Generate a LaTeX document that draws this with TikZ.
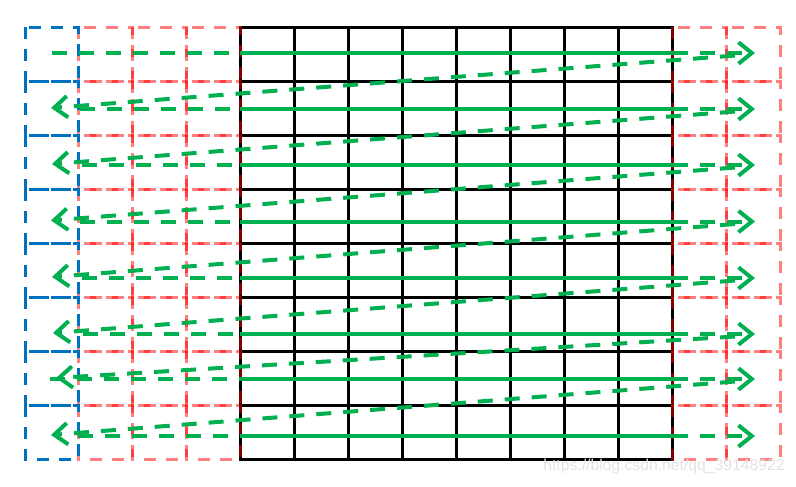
\documentclass[tikz,border=0pt]{standalone}
\usepackage{fontspec}
\setmainfont{Liberation Sans}
\usetikzlibrary{arrows.meta}
\definecolor{gr}{HTML}{00B050}
\definecolor{bl}{HTML}{0070C0}
\definecolor{wm}{HTML}{E2E2E2}
\tikzset{
  gridline/.style={line width=2.25pt, black, line cap=rect},
  redcell/.style={draw=red, draw opacity=0.5, line width=2.25pt, dash pattern=on 9pt off 7.5pt},
  bluecell/.style={draw=bl, line width=2.25pt, dash pattern=on 9pt off 7.5pt},
  gsolid/.style={draw=gr, line width=3pt},
  gdash/.style={draw=gr, line width=3pt, dash pattern=on 11.25pt off 9pt},
  garrow/.style={gdash, -{Straight Barb[length=10pt,width=16pt]}},
}
\begin{document}
\begin{tikzpicture}[x=0.75pt,y=-0.75pt]
\useasboundingbox (0,0) rectangle (796,486);
% black grid
\foreach \i in {0,...,8} {
  \draw[gridline] (240+54*\i,27) -- (240+54*\i,459);
  \draw[gridline] (240,27+54*\i) -- (672,27+54*\i);
}
% red padding cells
\foreach \xa/\xb in {78/132,132/186,186/240,672/726,726/780} {
  \foreach \r in {0,...,7} {
    \draw[redcell] (\xa,27+54*\r) rectangle (\xb,81+54*\r);
  }
}
% blue cells
\foreach \r in {0,...,7} {
  \draw[bluecell] (25,27+54*\r) rectangle (78,81+54*\r);
}
% row coordinates
\foreach \k/\y/\xs/\tx in {1/53/52/51,2/109/80/51,3/165/82/52,4/221.5/80/51,5/278/82/52,6/334/83/53,7/379/50/56,8/436/78/51} {
  \coordinate (L\k) at (\xs,\y);
  \coordinate (A\k) at (240,\y);
  \coordinate (B\k) at (688,\y);
  \coordinate (R\k) at (755,\y);
  \coordinate (S\k) at (735,\y+2.5);
  \coordinate (T\k) at (\tx,\y-1);
}
% horizontal arrows
\foreach \k in {1,...,8} {
  \draw[gdash] (L\k) -- (A\k);
  \draw[gsolid] (A\k) -- (B\k);
  \draw[garrow, dash phase=11.25pt] (B\k) -- (R\k);
}
% return arrows
\foreach \k [evaluate=\k as \n using int(\k+1)] in {1,...,7} {
  \draw[garrow] (S\k) -- (T\n);
}
% watermark
\node[anchor=base west, text=wm, font=\fontsize{11.8}{14}\selectfont, inner sep=0pt] (wmk) at (543,470) {https://blog.csdn.net/qq\_39148922};
\end{tikzpicture}
\end{document}
